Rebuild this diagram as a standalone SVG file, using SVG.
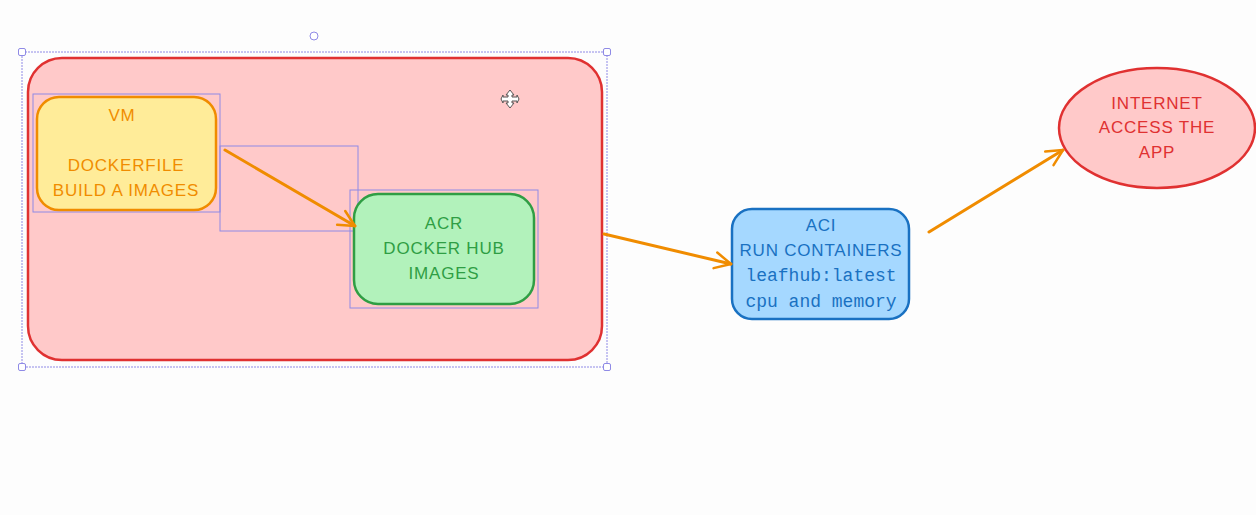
<svg xmlns="http://www.w3.org/2000/svg" width="1256" height="515" viewBox="0 0 1256 515">
<defs>
<style>
.hand{font-family:"Liberation Sans","DejaVu Sans",sans-serif;font-size:17px;letter-spacing:0.8px;text-anchor:middle}
.mono{font-family:"Liberation Mono","DejaVu Sans Mono",monospace;font-size:18px;text-anchor:middle}
.sel{fill:none;stroke:#8f8ae6;stroke-width:1}
.handle{fill:#ffffff;stroke:#8f8ae6;stroke-width:1}
.conn{fill:none;stroke:#f08c00;stroke-width:3;stroke-linecap:round}
</style>
<marker id="arrow" viewBox="0 0 20 20" refX="18" refY="10" markerWidth="20" markerHeight="20" markerUnits="userSpaceOnUse" orient="auto">
<path d="M2,2 L18,10 L2,18" fill="none" stroke="#f08c00" stroke-width="2.5" stroke-linecap="round" stroke-linejoin="round"/>
</marker>
</defs>
<rect x="0" y="0" width="1256" height="515" fill="#fdfdfd"/>

<g id="group-container">
<rect x="28" y="58" width="574" height="302" rx="34" fill="#ffc9c9" stroke="#e03131" stroke-width="2.5"/>
</g>

<g id="selection">
<rect class="sel" x="22" y="52" width="585" height="315" stroke-dasharray="2 1"/>
<rect class="sel" x="33" y="94" width="187" height="118"/>
<rect class="sel" x="220" y="146" width="138" height="85"/>
<rect class="sel" x="350" y="190" width="188" height="118"/>
<rect class="handle" x="18.5" y="48.5" width="7" height="7" rx="1.5"/>
<rect class="handle" x="603.5" y="48.5" width="7" height="7" rx="1.5"/>
<rect class="handle" x="18.5" y="363.5" width="7" height="7" rx="1.5"/>
<rect class="handle" x="603.5" y="363.5" width="7" height="7" rx="1.5"/>
<circle class="handle" cx="314" cy="36" r="4"/>
</g>

<g id="node-vm">
<rect x="37" y="97" width="179" height="113" rx="22" fill="#ffec99" stroke="#f08c00" stroke-width="2.5"/>
<g class="hand" fill="#f08c00">
<text x="122" y="121">VM</text>
<text x="126" y="171">DOCKERFILE</text>
<text x="126" y="196">BUILD A IMAGES</text>
</g>
</g>

<g id="node-acr">
<rect x="354" y="194" width="180" height="110" rx="24" fill="#b2f2bb" stroke="#2f9e44" stroke-width="2.5"/>
<g class="hand" fill="#2f9e44">
<text x="444" y="229">ACR</text>
<text x="444" y="254">DOCKER HUB</text>
<text x="444" y="279">IMAGES</text>
</g>
</g>

<g id="node-aci">
<rect x="732" y="209" width="177" height="110" rx="20" fill="#a5d8ff" stroke="#1971c2" stroke-width="2.5"/>
<g fill="#1971c2">
<text class="hand" x="821" y="231">ACI</text>
<text class="hand" x="821" y="256">RUN CONTAINERS</text>
<text class="mono" x="821" y="281">leafhub:latest</text>
<text class="mono" x="821" y="307">cpu and memory</text>
</g>
</g>

<g id="node-internet">
<ellipse cx="1157" cy="128" rx="98" ry="60" fill="#ffc9c9" stroke="#e03131" stroke-width="2.5"/>
<g class="hand" fill="#e03131">
<text x="1157" y="109">INTERNET</text>
<text x="1157" y="133">ACCESS THE</text>
<text x="1157" y="158">APP</text>
</g>
</g>

<g id="connectors">
<path class="conn" d="M225,150 L355,226" marker-end="url(#arrow)"/>
<path class="conn" d="M604,234 L731,264" marker-end="url(#arrow)"/>
<path class="conn" d="M929,232 L1063,150" marker-end="url(#arrow)"/>
</g>

<g id="cursor" fill="#ffffff" stroke="#555555" stroke-width="1">
<path d="M510,90 L514,95 L512,95 L512,97 L517,97 L517,95 L519,99 L517,103 L517,101 L512,101 L512,103 L514,103 L510,108 L506,103 L508,103 L508,101 L503,101 L503,103 L501,99 L503,95 L503,97 L508,97 L508,95 L506,95 Z"/>
</g>
</svg>
